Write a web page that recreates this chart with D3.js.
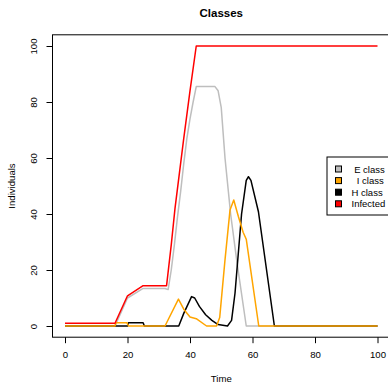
<!DOCTYPE html>
<html>
<head>
<meta charset="utf-8">
<script src="https://cdn.jsdelivr.net/npm/d3@7"></script>
<style>
  body { margin: 0; background: #fff; }
  svg { display: block; font-family: "Liberation Sans", Arial, sans-serif; }
</style>
</head>
<body>
<div id="chart"></div>
<script>
// values: [time] and [individuals] per class
var infectedTime = [0, 16, 20, 25, 32.5, 34, 35.2, 38, 40, 42, 100];
var infectedVals = [1, 1, 10.8, 14.4, 14.4, 29, 42, 67, 84, 100, 100];

var eTime = [0, 16, 20, 25, 32, 33, 34, 35, 36, 37, 38, 39, 40, 41, 42, 48, 49, 50, 51.2, 53, 55, 58, 100];
var eVals = [0, 0, 10, 13.4, 13.4, 13, 20, 29, 39, 48, 58, 67, 74, 80, 85.5, 85.5, 84, 78, 60, 40, 23, 0, 0];

var iTime = [0, 16, 16.3, 19.8, 20.3, 32, 36.3, 38, 40, 42, 45.3, 48.5, 49.5, 51.2, 52.8, 54, 55.5, 57, 58, 62, 100];
var iVals = [0, 0, 1.2, 1.2, 0, 0, 9.6, 6, 3.2, 2.6, 0, 0, 3, 23.6, 41.4, 45, 39, 33.5, 31, 0, 0];

var hTime = [0, 20, 20.3, 25, 25.4, 36.4, 38, 40.5, 41.5, 43, 45, 47, 49, 52, 53.3, 54.4, 56.5, 58, 58.7, 59.5, 61.9, 67, 100];
var hVals = [0, 0, 1.2, 1.2, 0, 0, 4.5, 10.5, 10, 7, 4, 2, 0.5, 0, 2, 11.7, 40, 52, 53.3, 52, 40.8, 0, 0];

var legendLabels = [" E class", "  I class", "H class", "Infected"];
var legendColors = ["#bebebe", "#ffa500", "#000000", "#ff0000"];

var xTicks = [0, 20, 40, 60, 80, 100];
var yTicks = [0, 20, 40, 60, 80, 100];

var width = 388, height = 382;
var plot = {left: 52.5, right: 390, top: 34.8, bottom: 337.2};

var svg = d3.select("#chart").append("svg")
    .attr("width", width)
    .attr("height", height);

var x = d3.scaleLinear().domain([-4, 104]).range([plot.left, plot.right]);
var y = d3.scaleLinear().domain([-4, 104]).range([plot.bottom, plot.top]);

var line = d3.line()
    .x(function(d) { return x(d[0]); })
    .y(function(d) { return y(d[1]); });

function pairs(t, v) {
    return t.map(function(d, i) { return [d, v[i]]; });
}

// series, drawn in this order
var series = [
    {pts: pairs(eTime, eVals), color: legendColors[0]},
    {pts: pairs(hTime, hVals), color: legendColors[2]},
    {pts: pairs(iTime, iVals), color: legendColors[1]},
    {pts: pairs(infectedTime, infectedVals), color: legendColors[3]}
];

svg.selectAll(".series")
    .data(series)
    .enter().append("path")
    .attr("class", "series")
    .attr("d", function(d) { return line(d.pts); })
    .attr("fill", "none")
    .attr("stroke", function(d) { return d.color; })
    .attr("stroke-width", 1.5)
    .attr("stroke-linejoin", "round");

// box
svg.append("rect")
    .attr("x", plot.left)
    .attr("y", plot.top)
    .attr("width", plot.right - plot.left)
    .attr("height", plot.bottom - plot.top)
    .attr("fill", "none")
    .attr("stroke", "#000")
    .attr("stroke-width", 1);

// x axis
var xAxis = svg.append("g")
    .attr("transform", "translate(0," + plot.bottom + ")")
    .call(d3.axisBottom(x).tickValues(xTicks).tickSize(6).tickFormat(d3.format("d")));
xAxis.select(".domain").remove();
xAxis.selectAll("text")
    .attr("y", 21)
    .attr("dy", 0)
    .style("font-size", "9.6px")
    .style("font-family", "Liberation Sans, Arial, sans-serif")
    .attr("fill", "#000");

// y axis, labels parallel to axis
var yAxis = svg.append("g")
    .attr("transform", "translate(" + plot.left + ",0)")
    .call(d3.axisLeft(y).tickValues(yTicks).tickSize(6).tickFormat(d3.format("d")));
yAxis.select(".domain").remove();
yAxis.selectAll("text")
    .attr("x", 0)
    .attr("y", -15.8)
    .attr("dy", 0)
    .attr("text-anchor", "middle")
    .attr("transform", "rotate(-90)")
    .style("font-size", "9.6px")
    .style("font-family", "Liberation Sans, Arial, sans-serif")
    .attr("fill", "#000");

// title and axis titles
svg.append("text")
    .attr("x", (plot.left + plot.right) / 2)
    .attr("y", 16.5)
    .attr("text-anchor", "middle")
    .style("font-weight", "bold")
    .style("font-size", "11.5px")
    .text("Classes");

svg.append("text")
    .attr("x", (plot.left + plot.right) / 2)
    .attr("y", 381.5)
    .attr("text-anchor", "middle")
    .style("font-size", "9.6px")
    .text("Time");

svg.append("text")
    .attr("transform", "translate(15," + ((plot.top + plot.bottom) / 2) + ") rotate(-90)")
    .attr("text-anchor", "middle")
    .style("font-size", "9.6px")
    .text("Individuals");

// legend
var legend = svg.append("g")
    .attr("transform", "translate(327,157)");

legend.append("rect")
    .attr("width", plot.right - 327)
    .attr("height", 58)
    .attr("fill", "#fff")
    .attr("stroke", "#000");

var items = legend.selectAll(".item")
    .data(legendLabels)
    .enter().append("g")
    .attr("class", "item")
    .attr("transform", function(d, i) { return "translate(0," + (12 + i * 11.6) + ")"; });

items.append("rect")
    .attr("x", 8.5)
    .attr("y", -3)
    .attr("width", 6)
    .attr("height", 6)
    .attr("fill", function(d, i) { return legendColors[i]; })
    .attr("stroke", "#000")
    .attr("stroke-width", 1);

items.append("text")
    .attr("x", 24.5)
    .attr("y", 3.5)
    .style("font-size", "9.5px")
    .style("white-space", "pre")
    .text(function(d) { return d; });
</script>
</body>
</html>
